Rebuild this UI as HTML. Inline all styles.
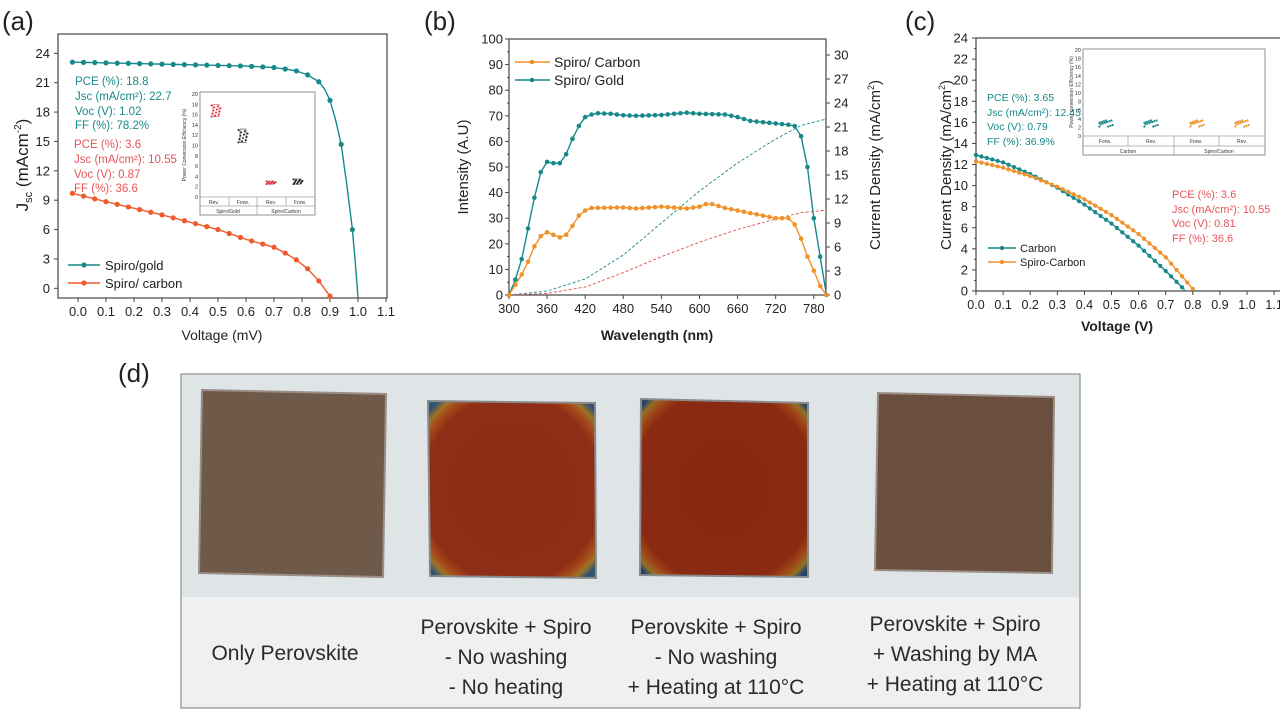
<!DOCTYPE html>
<html><head><meta charset="utf-8"><style>
html,body{margin:0;padding:0;background:#fff;}
svg{display:block;font-family:"Liberation Sans",sans-serif;}
</style></head><body>
<svg id="s" width="1280" height="710" viewBox="0 0 1280 710" xmlns="http://www.w3.org/2000/svg">
<rect width="1280" height="710" fill="#fff"/>
<defs>
<radialGradient id="rg" cx="50%" cy="50%" r="70%">
<stop offset="0" stop-color="#8c2c14"/><stop offset="0.76" stop-color="#8f2e16"/><stop offset="0.84" stop-color="#a64c1a"/><stop offset="0.89" stop-color="#9a7428"/><stop offset="0.95" stop-color="#2c4f78"/><stop offset="1" stop-color="#2a6a70"/>
</radialGradient>
<radialGradient id="rg2" cx="50%" cy="50%" r="70%">
<stop offset="0" stop-color="#85280f"/><stop offset="0.78" stop-color="#8a2a12"/><stop offset="0.86" stop-color="#a04a18"/><stop offset="0.91" stop-color="#927026"/><stop offset="0.96" stop-color="#26446c"/><stop offset="1" stop-color="#223c5a"/>
</radialGradient>
</defs>
<g id="g"></g>
</svg>
<script>
const NS="http://www.w3.org/2000/svg";const G=document.getElementById('g');
function el(t,a,txt){const e=document.createElementNS(NS,t);for(const k in a)e.setAttribute(k,a[k]);if(txt!==undefined)e.textContent=txt;G.appendChild(e);return e;}
function txt(x,y,s,o){o=o||{};return el('text',Object.assign({x:x,y:y,'font-size':o.fs||12,fill:o.fill||'#222','text-anchor':o.anchor||'start','font-weight':o.fw||'normal'},o.extra||{}),s);}
function interp(pts,x){for(let i=0;i<pts.length-1;i++){if(x>=pts[i][0]-1e-9&&x<=pts[i+1][0]+1e-9){const t=(x-pts[i][0])/(pts[i+1][0]-pts[i][0]);return pts[i][1]+t*(pts[i+1][1]-pts[i][1]);}}return pts[pts.length-1][1];}
function smoothPath(pts,X,Y,x0,x1,n){let d='';for(let i=0;i<=n;i++){const x=x0+(x1-x0)*i/n;d+=(i?'L':'M')+X(x).toFixed(1)+','+Y(interp(pts,x)).toFixed(1);}return d;}
function series(pts,X,Y,x0,x1,step,col,r,dash){el('path',{d:smoothPath(pts,X,Y,x0,x1,200),fill:'none',stroke:col,'stroke-width':dash?1:1.4,'stroke-dasharray':dash||'none'});if(step)for(let x=x0;x<=x1+1e-9;x+=step)el('circle',{cx:X(x),cy:Y(interp(pts,x)),r:r,fill:col});}
const TEAL='#17898a',RED='#ee5a2c',ORG='#f0922a',TXTRED='#e8545a';

/* ===== Panel A ===== */
txt(2,30,'(a)',{fs:26});
(function(){const X=v=>78+v*280,Y=j=>288.3-j*9.79;
el('rect',{x:58,y:34,width:329,height:264,fill:'none',stroke:'#444','stroke-width':1.2});
for(let j=0;j<=24;j+=3){el('line',{x1:54,x2:58,y1:Y(j),y2:Y(j),stroke:'#444'});txt(50,Y(j)+4.5,String(j),{fs:13,anchor:'end'});}
for(let v=0;v<=1.1001;v+=0.1){el('line',{x1:X(v),x2:X(v),y1:298,y2:302,stroke:'#444'});txt(X(v),316,v.toFixed(1),{fs:13,anchor:'middle'});}
txt(222,340,'Voltage (mV)',{fs:14,anchor:'middle'});
const yl=txt(0,0,'',{fs:17,anchor:'middle',extra:{transform:'translate(28,165) rotate(-90)'}});
yl.innerHTML='J<tspan font-size="11" dy="4">sc</tspan><tspan dy="-4"> (mAcm</tspan><tspan font-size="10" dy="-7">-2</tspan><tspan dy="7">)</tspan>';
const gold=[[-0.02,23.1],[0.3,22.9],[0.6,22.7],[0.7,22.55],[0.74,22.4],[0.78,22.2],[0.82,21.8],[0.86,21.1],[0.88,20.4],[0.9,19.2],[0.92,17.2],[0.94,14.7],[0.96,10.6],[0.98,6],[0.99,2.8],[1.0,-1]];
const carb=[[-0.02,9.7],[0.1,8.85],[0.3,7.5],[0.5,6.0],[0.6,5.0],[0.7,4.2],[0.74,3.6],[0.78,2.9],[0.82,2.0],[0.86,0.75],[0.9,-0.8]];
el('path',{d:smoothPath(gold,X,Y,-0.02,1.0,200),fill:'none',stroke:TEAL,'stroke-width':1.4});
for(let v=-0.02;v<=0.99;v+=0.04)el('circle',{cx:X(v),cy:Y(interp(gold,v)),r:2.6,fill:TEAL});
el('path',{d:smoothPath(carb,X,Y,-0.02,0.9,200),fill:'none',stroke:RED,'stroke-width':1.4});
for(let v=-0.02;v<=0.91;v+=0.04)el('circle',{cx:X(v),cy:Y(interp(carb,v)),r:2.6,fill:RED});
[['PCE (%): 18.8',85],['Jsc (mA/cm²): 22.7',100],['Voc (V): 1.02',115],['FF (%): 78.2%',129]].forEach(a=>txt(75,a[1],a[0],{fs:11.5,fill:TEAL}));
[['PCE (%): 3.6',148],['Jsc (mA/cm²): 10.55',163],['Voc (V): 0.87',178],['FF (%): 36.6',192]].forEach(a=>txt(74,a[1],a[0],{fs:11.5,fill:TXTRED}));
el('line',{x1:68,x2:100,y1:265,y2:265,stroke:TEAL,'stroke-width':1.4});el('circle',{cx:84,cy:265,r:2.6,fill:TEAL});
el('line',{x1:68,x2:100,y1:283,y2:283,stroke:RED,'stroke-width':1.4});el('circle',{cx:84,cy:283,r:2.6,fill:RED});
txt(105,270,'Spiro/gold',{fs:13});txt(105,288,'Spiro/ carbon',{fs:13});
const ix0=200,ix1=315,iy0=92,iy1=197,IY=p=>iy1-(p/20)*(iy1-iy0-2);
el('rect',{x:ix0,y:iy0,width:ix1-ix0,height:215-iy0,fill:'#fff',stroke:'#777','stroke-width':0.8});
el('line',{x1:ix0,x2:ix1,y1:iy1,y2:iy1,stroke:'#777','stroke-width':0.6});el('line',{x1:ix0,x2:ix1,y1:206,y2:206,stroke:'#777','stroke-width':0.6});
[229,257,286].forEach(x=>el('line',{x1:x,x2:x,y1:iy1,y2:206,stroke:'#777','stroke-width':0.5}));el('line',{x1:257,x2:257,y1:206,y2:215,stroke:'#777','stroke-width':0.5});
for(let p=0;p<=20;p+=2)txt(ix0-2,IY(p)+2,String(p),{fs:5.5,anchor:'end',fill:'#333'});
txt(0,0,'Power Conversion Efficiency (%)',{fs:5,anchor:'middle',fill:'#333',extra:{transform:'translate(186,145) rotate(-90)'}});
[['Rev.',214],['Forw.',243],['Rev.',271],['Forw.',300]].forEach(a=>txt(a[1],204,a[0],{fs:5,anchor:'middle',fill:'#333'}));
txt(228,213,'Spiro/Gold',{fs:5,anchor:'middle',fill:'#333'});txt(286,213,'Spiro/Carbon',{fs:5,anchor:'middle',fill:'#333'});
const cl=[[216,16.8,1.2,'#e03040'],[243,11.9,1.3,'#222'],[271,2.8,0.3,'#e03040'],[298,3.0,0.5,'#222']];
cl.forEach(c=>{for(let i=0;i<12;i++){const dx=((i*37)%11-5)*0.9,dp=(((i*53)%13)-6)/6*c[2];el('circle',{cx:c[0]+dx,cy:IY(c[1]+dp),r:1,fill:c[3]});}
el('rect',{x:c[0]-3,y:IY(c[1]+c[2]),width:6,height:Math.max(1,IY(c[1]-c[2])-IY(c[1]+c[2])),fill:'none',stroke:c[3],'stroke-width':0.5});});
})();

/* ===== Panel B ===== */
txt(424,30,'(b)',{fs:26});
(function(){const X=w=>509+(w-300)*0.635,Y=i=>295-i*2.56,YR=c=>295-c*8;
el('rect',{x:509,y:39,width:317,height:256,fill:'none',stroke:'#444','stroke-width':1.2});
for(let i=0;i<=100;i+=10){el('line',{x1:505,x2:509,y1:Y(i),y2:Y(i),stroke:'#444'});txt(503,Y(i)+4.5,String(i),{fs:13,anchor:'end'});}
for(let i=5;i<100;i+=10)el('line',{x1:507,x2:509,y1:Y(i),y2:Y(i),stroke:'#444'});
for(let c=0;c<=30;c+=3){el('line',{x1:826,x2:830,y1:YR(c),y2:YR(c),stroke:'#444'});txt(834,YR(c)+4.5,String(c),{fs:13});}
for(let w=300;w<=780;w+=60){el('line',{x1:X(w),x2:X(w),y1:295,y2:299,stroke:'#444'});txt(X(w),313,String(w),{fs:13,anchor:'middle'});}
txt(657,340,'Wavelength (nm)',{fs:14,anchor:'middle',fw:'bold'});
txt(0,0,'Intensity (A.U)',{fs:15,anchor:'middle',extra:{transform:'translate(468,167) rotate(-90)'}});
const cr=txt(0,0,'',{fs:15,anchor:'middle',extra:{transform:'translate(880,165) rotate(-90)'}});cr.innerHTML='Current Density (mA/cm<tspan font-size="9" dy="-6">2</tspan><tspan dy="6">)</tspan>';
const gold=[[300,0],[310,6],[320,14],[330,26],[340,38],[350,48],[360,52],[370,51.5],[380,51.5],[390,55],[400,61],[410,66],[420,69.5],[430,70.5],[440,71],[460,70.8],[480,70.2],[500,70],[540,70.3],[560,70.8],[580,71.2],[600,70.8],[640,70.5],[660,69.5],[680,68],[700,67.5],[720,67],[740,66.5],[750,66],[760,62],[770,50],[780,30],[790,15],[800,0]];
const carb=[[300,0],[310,4],[320,8],[330,13],[340,19],[350,23],[360,24.5],[370,23.5],[380,22.5],[390,23.5],[400,27],[410,31],[420,33],[430,34],[480,34.2],[500,33.8],[540,34.5],[580,33.8],[600,34.5],[610,35.5],[620,35.5],[640,34],[660,33],[700,31],[720,30],[740,30],[750,27.5],[760,22],[770,15],[780,9.5],[790,3.5],[800,0]];
const dT=[[300,0],[360,0.5],[420,2],[480,5],[540,9],[600,13],[660,16.5],[720,19.5],[760,21.2],[800,22]];
const dR=[[300,0],[360,0.2],[420,1],[480,2.8],[540,4.8],[600,6.6],[660,8.2],[720,9.5],[760,10.3],[800,10.6]];
el('path',{d:smoothPath(dT,X,YR,300,800,100),fill:'none',stroke:TEAL,'stroke-width':0.9,'stroke-dasharray':'3,2'});
el('path',{d:smoothPath(dR,X,YR,300,800,100),fill:'none',stroke:'#e0504a','stroke-width':0.9,'stroke-dasharray':'3,2'});
series(gold,X,Y,300,800,10,TEAL,2.3);
series(carb,X,Y,300,800,10,ORG,2.3);
el('line',{x1:515,x2:550,y1:62,y2:62,stroke:ORG,'stroke-width':1.4});el('circle',{cx:532,cy:62,r:2.3,fill:ORG});
el('line',{x1:515,x2:550,y1:80,y2:80,stroke:TEAL,'stroke-width':1.4});el('circle',{cx:532,cy:80,r:2.3,fill:TEAL});
txt(554,67,'Spiro/ Carbon',{fs:14});txt(554,85,'Spiro/ Gold',{fs:14});
})();

/* ===== Panel C ===== */
txt(905,30,'(c)',{fs:26});
(function(){const X=v=>976+v*271,Y=j=>291-j*10.54;
el('rect',{x:976,y:38,width:310,height:253,fill:'none',stroke:'#444','stroke-width':1.2});
for(let j=0;j<=24;j+=2){el('line',{x1:972,x2:976,y1:Y(j),y2:Y(j),stroke:'#444'});txt(968,Y(j)+4.5,String(j),{fs:13,anchor:'end'});}
for(let j=1;j<24;j+=2)el('line',{x1:974,x2:976,y1:Y(j),y2:Y(j),stroke:'#444'});
for(let v=0;v<=1.1001;v+=0.1){el('line',{x1:X(v),x2:X(v),y1:291,y2:295,stroke:'#444'});txt(X(v),309,v.toFixed(1),{fs:12.5,anchor:'middle'});}
txt(1117,331,'Voltage (V)',{fs:14,anchor:'middle',fw:'bold'});
const yl=txt(0,0,'',{fs:15,anchor:'middle',extra:{transform:'translate(951,165) rotate(-90)'}});yl.innerHTML='Current Density (mA/cm<tspan font-size="9" dy="-6">2</tspan><tspan dy="6">)</tspan>';
const ca=[[0,12.9],[0.1,12.2],[0.2,11.1],[0.3,9.8],[0.4,8.2],[0.5,6.4],[0.6,4.3],[0.7,1.9],[0.77,0.1]];
const sc=[[0,12.3],[0.1,11.7],[0.2,10.9],[0.3,9.9],[0.4,8.7],[0.5,7.2],[0.6,5.4],[0.7,3.2],[0.8,0.2]];
series(ca,X,Y,0,0.77,0.02,TEAL,2.1);
series(sc,X,Y,0,0.8,0.02,ORG,2.1);
[['PCE (%): 3.65',101],['Jsc (mA/cm²): 12.45',116],['Voc (V): 0.79',130],['FF (%): 36.9%',145]].forEach(a=>txt(987,a[1],a[0],{fs:10.5,fill:TEAL}));
[['PCE (%): 3.6',198],['Jsc (mA/cm²): 10.55',213],['Voc (V): 0.81',227],['FF (%): 36.6',242]].forEach(a=>txt(1172,a[1],a[0],{fs:11,fill:TXTRED}));
el('line',{x1:988,x2:1016,y1:248,y2:248,stroke:TEAL,'stroke-width':1.4});el('circle',{cx:1002,cy:248,r:2.1,fill:TEAL});
el('line',{x1:988,x2:1016,y1:262,y2:262,stroke:ORG,'stroke-width':1.4});el('circle',{cx:1002,cy:262,r:2.1,fill:ORG});
txt(1020,252,'Carbon',{fs:11});txt(1020,266,'Spiro-Carbon',{fs:11});
const ix0=1083,ix1=1265,iy0=49,iy1=136,IY=p=>iy1-(p/20)*(iy1-iy0-1);
el('rect',{x:ix0,y:iy0,width:ix1-ix0,height:155-iy0,fill:'#fff',stroke:'#777','stroke-width':0.8});
el('line',{x1:ix0,x2:ix1,y1:iy1,y2:iy1,stroke:'#777','stroke-width':0.6});el('line',{x1:ix0,x2:ix1,y1:146,y2:146,stroke:'#777','stroke-width':0.6});
[1128,1174,1219].forEach(x=>el('line',{x1:x,x2:x,y1:iy1,y2:146,stroke:'#777','stroke-width':0.5}));el('line',{x1:1174,x2:1174,y1:146,y2:155,stroke:'#777','stroke-width':0.5});
for(let p=0;p<=20;p+=2)txt(ix0-2,IY(p)+2,String(p),{fs:5.5,anchor:'end',fill:'#333'});
txt(0,0,'Power conversion Efficiency (%)',{fs:5,anchor:'middle',fill:'#333',extra:{transform:'translate(1073,92) rotate(-90)'}});
[['Forw.',1105],['Rev.',1151],['Forw.',1196],['Rev.',1242]].forEach(a=>txt(a[1],143,a[0],{fs:5,anchor:'middle',fill:'#333'}));
txt(1128,153,'Carbon',{fs:5,anchor:'middle',fill:'#333'});txt(1219,153,'Spiro/Carbon',{fs:5,anchor:'middle',fill:'#333'});
[[1106,TEAL],[1151,TEAL],[1197,ORG],[1242,ORG]].forEach(c=>{for(let i=0;i<14;i++){const dx=((i*37)%13-6)*1.1,dp=(((i*71)%9)-4)/4*0.7;el('circle',{cx:c[0]+dx,cy:IY(2.9+dp),r:1.1,fill:c[1]});}});
})();

/* ===== Panel D ===== */
txt(118,382,'(d)',{fs:26});
el('rect',{x:181,y:374,width:899,height:334,fill:'#eef0f1',stroke:'#777','stroke-width':1});
el('rect',{x:182,y:375,width:897,height:222,fill:'#dfe4e7'});
el('polygon',{points:'202,390 386,394 383,577 199,573',fill:'#6f5a4a',stroke:'#9a8e86','stroke-width':2});
el('polygon',{points:'428,401 595,403 596,578 430,576',fill:'url(#rg)',stroke:'#8a8a8a','stroke-width':2});
el('polygon',{points:'641,399 808,403 808,577 640,575',fill:'url(#rg2)',stroke:'#8a8a8a','stroke-width':2});
el('polygon',{points:'878,393 1054,397 1052,573 875,570',fill:'#6a4e3e',stroke:'#9a8e86','stroke-width':2});
const DS={fs:21,anchor:'middle',fill:'#2a2a2a'};
txt(285,660,'Only Perovskite',DS);
txt(506,634,'Perovskite + Spiro',DS);txt(506,664,'- No washing',DS);txt(506,694,'- No heating',DS);
txt(716,634,'Perovskite + Spiro',DS);txt(716,664,'- No washing',DS);txt(716,694,'+ Heating at 110°C',DS);
txt(955,631,'Perovskite + Spiro',DS);txt(955,661,'+ Washing by MA',DS);txt(955,691,'+ Heating at 110°C',DS);
</script>
</body></html>
